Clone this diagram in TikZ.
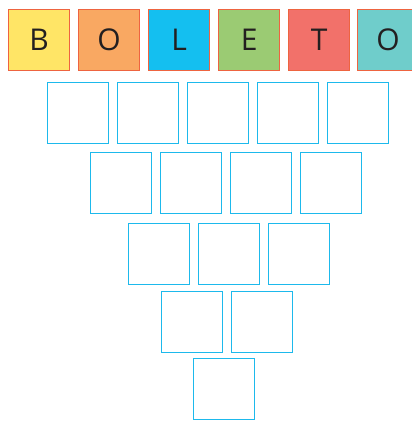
\documentclass[tikz,border=0pt]{standalone}
\usepackage{fontspec}
\setmainfont{Open Sans}
\definecolor{cY}{HTML}{FFE566}
\definecolor{cO}{HTML}{F9A862}
\definecolor{cL}{HTML}{14BFF0}
\definecolor{cE}{HTML}{9BCB73}
\definecolor{cT}{HTML}{F2716A}
\definecolor{cTe}{HTML}{6FCDCB}
\definecolor{edgeR}{HTML}{EE6440}
\definecolor{edgeB}{HTML}{1DB9EC}
\definecolor{ink}{HTML}{231F20}
\tikzset{
  letterbox/.style={draw=edgeR, line width=1.2pt, minimum width=61pt, minimum height=61pt, inner sep=0pt, anchor=north west, text=ink, font=\fontsize{30}{30}\selectfont},
  emptybox/.style={draw=edgeB, line width=1.3pt, minimum width=61pt, minimum height=61pt, inner sep=0pt, anchor=north west}
}
\begin{document}
\begin{tikzpicture}[x=1pt,y=-1pt]
\useasboundingbox (0,0) rectangle (412,421);
\clip (0,0) rectangle (412,421);
% top row
\node[letterbox, fill=cY] (l1) at (8,9) {B};
\node[letterbox, fill=cO] (l2) at (78,9) {O};
\node[letterbox, fill=cL] (l3) at (148,9) {L};
\node[letterbox, fill=cE] (l4) at (218,9) {E};
\node[letterbox, fill=cT] (l5) at (288,9) {T};
\node[letterbox, fill=cTe] (l6) at (357,9) {O};
% row 2
\node[emptybox] (a1) at (47,82) {};
\node[emptybox] (a2) at (117,82) {};
\node[emptybox] (a3) at (187,82) {};
\node[emptybox] (a4) at (257,82) {};
\node[emptybox] (a5) at (327,82) {};
% row 3
\node[emptybox] (b1) at (90,152) {};
\node[emptybox] (b2) at (160,152) {};
\node[emptybox] (b3) at (230,152) {};
\node[emptybox] (b4) at (300,152) {};
% row 4
\node[emptybox] (c1) at (128,223) {};
\node[emptybox] (c2) at (198,223) {};
\node[emptybox] (c3) at (268,223) {};
% row 5
\node[emptybox] (d1) at (161,291) {};
\node[emptybox] (d2) at (231,291) {};
% row 6
\node[emptybox] (e1) at (193,358) {};
\end{tikzpicture}
\end{document}
